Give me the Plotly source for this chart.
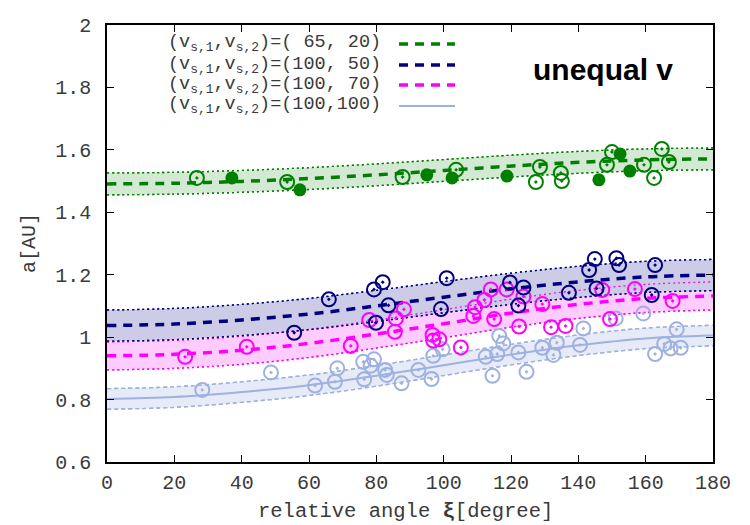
import plotly.graph_objects as go

# ---------------- data ----------------
xi_grid = [0, 20, 40, 60, 80, 100, 120, 140, 160, 180]

fit_65_20 = [1.491, 1.493, 1.499, 1.508, 1.520, 1.534, 1.548, 1.560, 1.568, 1.571]
fit_100_50 = [1.037, 1.042, 1.055, 1.074, 1.100, 1.128, 1.155, 1.177, 1.193, 1.199]
fit_100_70 = [0.940, 0.945, 0.958, 0.980, 1.010, 1.043, 1.077, 1.105, 1.124, 1.132]
fit_100_100 = [0.802, 0.808, 0.824, 0.846, 0.876, 0.910, 0.944, 0.974, 0.996, 1.005]

halfwidth_65_20 = 0.035
halfwidth_100_50 = 0.050
halfwidth_100_70 = 0.045
halfwidth_100_100 = 0.033

g_open_x = [26.7, 53.5, 87.8, 103.7, 127.4, 128.6, 134.8, 135.1, 148.5, 150.0, 159.5, 162.5, 164.8, 166.9]
g_open_y = [1.510, 1.497, 1.513, 1.536, 1.497, 1.545, 1.526, 1.500, 1.552, 1.593, 1.552, 1.510, 1.603, 1.561]
g_fill_x = [37.1, 57.3, 95.0, 102.5, 118.8, 146.1, 152.4, 155.3]
g_fill_y = [1.510, 1.472, 1.520, 1.510, 1.516, 1.504, 1.587, 1.532]

n_x = [55.6, 65.9, 79.3, 79.9, 81.9, 83.6, 99.2, 100.9, 119.7, 122.2, 123.7, 137.2, 143.2, 144.9,
       145.4, 151.3, 152.1, 161.8, 162.8]
n_y = [1.014, 1.121, 1.153, 1.046, 1.176, 1.102, 1.090, 1.189, 1.175, 1.101, 1.159, 1.142, 1.215, 1.250,
       1.156, 1.253, 1.231, 1.135, 1.231]

m_x = [23.2, 41.5, 72.4, 77.9, 85.5, 85.8, 88.2, 96.7, 96.9, 98.7, 105.1, 108.8, 109.3, 112.1, 114.0,
       115.0, 118.7, 122.4, 123.7, 129.3, 131.9, 136.2, 147.1, 149.4, 156.8, 168.0]
m_y = [0.937, 0.969, 0.972, 1.055, 1.017, 1.060, 1.089, 1.007, 0.989, 0.993, 0.967, 1.068, 1.096, 1.119, 1.153,
       1.058, 1.153, 1.034, 1.130, 1.106, 1.032, 1.036, 1.151, 1.058, 1.154, 1.116]

b_x = [28.3, 48.7, 61.8, 67.7, 68.4, 76.1, 76.4, 78.3, 79.3, 82.6, 83.1, 87.5, 92.5, 96.4, 96.9, 99.7,
       112.5, 114.5, 115.9, 116.5, 117.7, 122.2, 124.6, 129.3, 132.6, 133.6, 140.5, 141.5, 151.1, 159.3,
       162.8, 165.5, 167.4, 169.2, 170.4]
b_y = [0.831, 0.887, 0.845, 0.857, 0.900, 0.921, 0.865, 0.908, 0.929, 0.895, 0.879, 0.852, 0.895, 0.866, 0.940, 0.961,
       0.937, 0.876, 0.946, 1.004, 0.980, 0.951, 0.889, 0.966, 0.943, 0.982, 0.975, 1.028, 1.060, 1.076,
       0.946, 0.978, 0.964, 1.025, 0.966]

legend_labels = [
    "(v<sub>s,1</sub>,v<sub>s,2</sub>)=( 65, 20)",
    "(v<sub>s,1</sub>,v<sub>s,2</sub>)=(100, 50)",
    "(v<sub>s,1</sub>,v<sub>s,2</sub>)=(100, 70)",
    "(v<sub>s,1</sub>,v<sub>s,2</sub>)=(100,100)",
]

x_ticks = [0, 20, 40, 60, 80, 100, 120, 140, 160, 180]
y_ticks = [0.6, 0.8, 1.0, 1.2, 1.4, 1.6, 1.8, 2.0]
y_ticktext = ["0.6", "0.8", "1", "1.2", "1.4", "1.6", "1.8", "2"]

# ---------------- styles ----------------
GREEN = "#008000"
NAVY = "#000080"
MAGENTA = "#ff00ff"
LBLUE = "#9fb1e0"
FILLS = {"g": "#d4e9d4", "n": "#ccccE6", "m": "#ffccff", "b": "#e7ebf7"}
MONO = "Liberation Mono, DejaVu Sans Mono, monospace"
TXT = "#3a3a3a"

W, H = 750, 525
L, R, T, B = 107, 37, 25, 63
PW, PH = W - L - R, H - T - B


def px(x):
    return (x - L) / PW


def py(y):
    return (H - B - y) / PH


fig = go.Figure()

series = [
    ("b", fit_100_100, halfwidth_100_100, LBLUE, "solid", "4px,3px", 2),
    ("m", fit_100_70, halfwidth_100_70, MAGENTA, "9px,7px", "2px,3px", 3.5),
    ("n", fit_100_50, halfwidth_100_50, NAVY, "9px,7px", "2px,3px", 3.5),
    ("g", fit_65_20, halfwidth_65_20, GREEN, "9px,7px", "2px,3px", 3.5),
]

# bands
for key, fit, hw, col, dash, bdash, lw in series:
    lower = [v - hw for v in fit]
    upper = [v + hw for v in fit]
    fig.add_trace(go.Scatter(x=xi_grid, y=lower, mode="lines", line=dict(color=col, width=1.3, dash=bdash, shape="spline"),
                             showlegend=False, hoverinfo="skip"))
    fig.add_trace(go.Scatter(x=xi_grid, y=upper, mode="lines", line=dict(color=col, width=1.3, dash=bdash, shape="spline"),
                             fill="tonexty", fillcolor=FILLS[key], showlegend=False, hoverinfo="skip"))

# re-draw bound lines on top of fills and central fits
for key, fit, hw, col, dash, bdash, lw in series:
    lower = [v - hw for v in fit]
    upper = [v + hw for v in fit]
    for arr in (lower, upper):
        fig.add_trace(go.Scatter(x=xi_grid, y=arr, mode="lines",
                                 line=dict(color=col, width=1.3, dash=bdash, shape="spline"),
                                 showlegend=False, hoverinfo="skip"))
    fig.add_trace(go.Scatter(x=xi_grid, y=fit, mode="lines",
                             line=dict(color=col, width=lw if key != "b" else 2, dash=dash, shape="spline"),
                             showlegend=False, hoverinfo="skip"))

marker_open = dict(symbol="circle-open-dot", size=14, line=dict(width=2))
fig.add_trace(go.Scatter(x=b_x, y=b_y, mode="markers", showlegend=False,
                         marker=dict(marker_open, color=LBLUE, line=dict(width=2, color=LBLUE))))
fig.add_trace(go.Scatter(x=m_x, y=m_y, mode="markers", showlegend=False,
                         marker=dict(marker_open, color=MAGENTA, line=dict(width=2, color=MAGENTA))))
fig.add_trace(go.Scatter(x=n_x, y=n_y, mode="markers", showlegend=False,
                         marker=dict(marker_open, color=NAVY, line=dict(width=2, color=NAVY))))
fig.add_trace(go.Scatter(x=g_open_x, y=g_open_y, mode="markers", showlegend=False,
                         marker=dict(marker_open, color=GREEN, line=dict(width=2, color=GREEN))))
fig.add_trace(go.Scatter(x=g_fill_x, y=g_fill_y, mode="markers", showlegend=False,
                         marker=dict(symbol="circle", size=13, color=GREEN)))

# legend drawn gnuplot-style (text right-aligned, sample on the right)
leg_rows = [44, 65, 85, 106]
leg_styles = [(GREEN, "9px,7px", 3.5), (NAVY, "9px,7px", 3.5), (MAGENTA, "9px,7px", 3.5), (LBLUE, "solid", 2)]
annotations = []
shapes = []
for lab, yy, (col, dash, lw) in zip(legend_labels, leg_rows, leg_styles):
    annotations.append(dict(x=px(383), y=py(yy), xref="paper", yref="paper", text=lab, showarrow=False,
                            xanchor="right", yanchor="middle", font=dict(family=MONO, size=18.5, color=TXT)))
    shapes.append(dict(type="line", xref="paper", yref="paper", x0=px(399), x1=px(455), y0=py(yy), y1=py(yy),
                       line=dict(color=col, width=lw, dash=dash)))

annotations.append(dict(x=px(603), y=py(69), xref="paper", yref="paper", text="<b>unequal v</b>", showarrow=False,
                        xanchor="center", yanchor="middle",
                        font=dict(family="Liberation Sans, Arial, sans-serif", size=30, color="black")))
annotations.append(dict(x=px(405), y=py(511), xref="paper", yref="paper", text="relative angle <b>ξ</b>[degree]",
                        showarrow=False, xanchor="center", yanchor="middle",
                        font=dict(family=MONO, size=20.5, color=TXT)))
annotations.append(dict(x=px(30), y=py(243), xref="paper", yref="paper", text="a[AU]", textangle=-90,
                        showarrow=False, xanchor="center", yanchor="middle",
                        font=dict(family=MONO, size=20, color=TXT)))

axis_common = dict(showline=True, linecolor="black", linewidth=1.5, mirror="allticks", ticks="inside",
                   ticklen=7, tickwidth=1, tickcolor="black", showgrid=False, zeroline=False,
                   tickfont=dict(family=MONO, size=20, color=TXT))

fig.update_layout(
    width=W, height=H,
    margin=dict(l=L, r=R, t=T, b=B),
    paper_bgcolor="white", plot_bgcolor="white",
    xaxis=dict(axis_common, range=[0, 180], tickvals=x_ticks, ticktext=[str(t) for t in x_ticks],
               ticklabelstandoff=1),
    yaxis=dict(axis_common, range=[0.6, 2.0], tickvals=y_ticks, ticktext=y_ticktext,
               ticklabelstandoff=10),
    annotations=annotations,
    shapes=shapes,
    showlegend=False,
)

fig.write_html("out.html")
